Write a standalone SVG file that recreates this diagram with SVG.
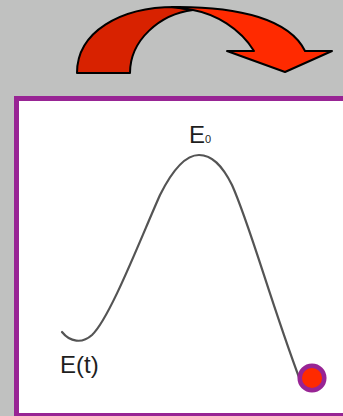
<svg xmlns="http://www.w3.org/2000/svg" width="343" height="416" viewBox="0 0 343 416">
<style>
.lbl{font-family:"Liberation Sans",Arial,sans-serif;fill:#1e1e1e}
.arr{stroke:#000;stroke-width:2;stroke-linejoin:round}
</style>
<rect x="0" y="0" width="343" height="416" fill="#c0c1c0"/>
<g id="arrow">
<path class="arr" fill="#d82200" d="M77,73 C77,32 120,7 175,7 L193,10 C160,14 130,40 130,73 Z"/>
<path class="arr" fill="#ff2a00" d="M172,7 C240,6 290,20 305,51 L332,51 L285,72 L227,51 L254,51 C240,28 215,14 193,10 Z"/>
</g>
<g id="frame">
<rect x="16.5" y="98.5" width="400" height="317" fill="#ffffff" stroke="#982494" stroke-width="5"/>
</g>
<g id="curve">
<path fill="none" stroke="#545454" stroke-width="2.2" stroke-linecap="round" d="M62,332 C70,342 82,344 92,335 C110,318 140,240 160,195 C175,165 188,155 199,155 C212,155 222,165 232,185 C250,225 270,300 300,380"/>
</g>
<g id="ball">
<circle cx="312" cy="378" r="12.3" fill="#ff2a00" stroke="#982494" stroke-width="4.5"/>
</g>
<g id="labels">
<text class="lbl" x="189" y="143" font-size="24">E</text>
<text class="lbl" x="205" y="143" font-size="11">0</text>
<text class="lbl" x="60" y="373" font-size="24">E(t)</text>
</g>
</svg>
